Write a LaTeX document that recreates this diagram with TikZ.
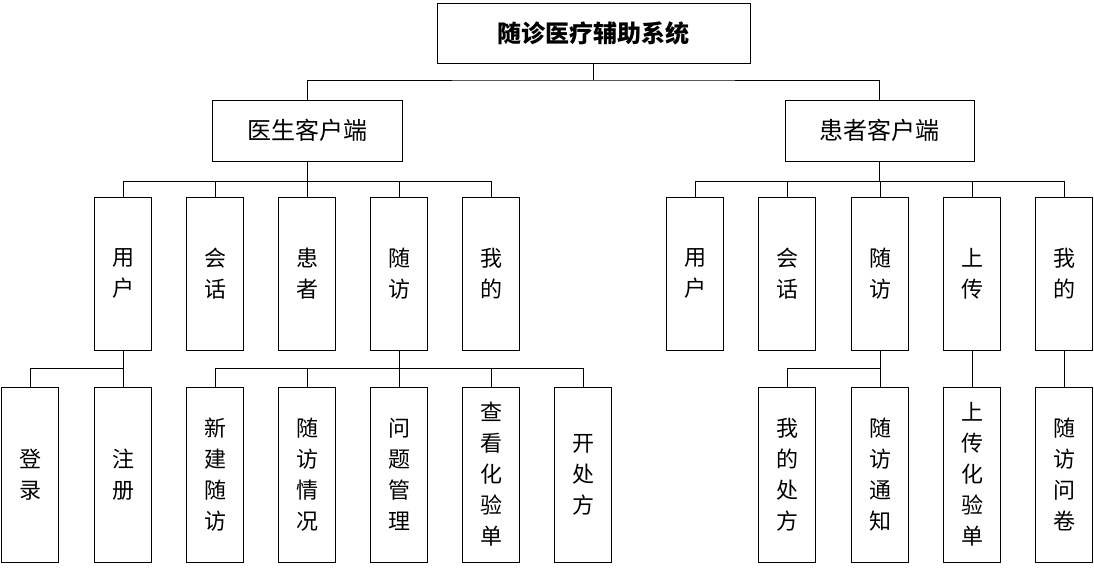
\documentclass[tikz,border=0pt]{standalone}
\usepackage{fontspec}
\setmainfont{Noto Sans CJK SC}
\begin{document}
\begin{tikzpicture}[x=1pt,y=-1pt,
  box/.style={draw,line width=0.8pt,inner sep=0pt,align=center,font=\fontsize{22}{31}\selectfont},
  l2/.style={box,minimum width=57pt,minimum height=153pt},
  l3/.style={box,minimum width=57pt,minimum height=175pt},
  ln/.style={line width=0.8pt}]
\useasboundingbox (0,0) rectangle (1094,577);
\node[box,minimum width=313pt,minimum height=60pt,font=\fontsize{24}{28}\selectfont\bfseries] (root) at (593.5,33) {随诊医疗辅助系统};
\node[box,minimum width=190pt,minimum height=61pt,font=\fontsize{24}{28}\selectfont] (doc) at (307,130.5) {医生客户端};
\node[box,minimum width=189pt,minimum height=61pt,font=\fontsize{24}{28}\selectfont] (pat) at (879.5,130.5) {患者客户端};
\draw[ln] (root.south) -- (593.5,80) coordinate (b0);
\draw[ln] (doc.north) |- (b0) -| (pat.north);
% level 2
\foreach \n/\x/\t in {d1/123/用\\户, d2/215/会\\话, d3/307/患\\者, d4/399/随\\访, d5/491/我\\的,
  p1/695/用\\户, p2/787/会\\话, p3/880/随\\访, p4/972/上\\传, p5/1064/我\\的}
  \node[l2] (\n) at (\x,273.5) {\t};
\draw[ln] (doc.south) -- (307,181) coordinate (b1);
\foreach \n in {d1,d2,d3,d4,d5} \draw[ln] (b1) -| (\n.north);
\draw[ln] (pat.south) -- (879.5,181) coordinate (b2);
\foreach \n in {p1,p2,p3,p4,p5} \draw[ln] (b2) -| (\n.north);
% level 3
\foreach \n/\x/\t in {e1/30/登\\录, e2/123/注\\册, e3/215/新\\建\\随\\访, e4/307/随\\访\\情\\况,
  e5/399/问\\题\\管\\理, e6/491/查\\看\\化\\验\\单, e7/583/开\\处\\方,
  q1/787/我\\的\\处\\方, q2/880/随\\访\\通\\知, q3/972/上\\传\\化\\验\\单, q4/1064/随\\访\\问\\卷}
  \node[l3] (\n) at (\x,474.5) {\t};
\draw[ln] (d1.south) -- (123,368) coordinate (c1);
\foreach \n in {e1,e2} \draw[ln] (c1) -| (\n.north);
\draw[ln] (d4.south) -- (399,368) coordinate (c2);
\foreach \n in {e3,e4,e5,e6,e7} \draw[ln] (c2) -| (\n.north);
\draw[ln] (p3.south) -- (880,368) coordinate (c3);
\foreach \n in {q1,q2} \draw[ln] (c3) -| (\n.north);
\draw[ln] (p4.south) -- (q3.north);
\draw[ln] (p5.south) -- (q4.north);
\end{tikzpicture}
\end{document}
